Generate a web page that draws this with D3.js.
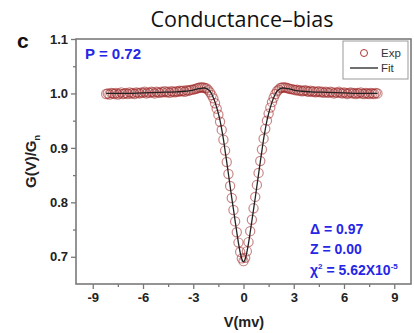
<!DOCTYPE html>
<html lang="en">
<head>
    <meta charset="UTF-8">
    <title>Conductance-bias</title>
    <script src="https://d3js.org/d3.v7.min.js"></script>
    <style>
        html, body { margin: 0; padding: 0; background: #fff; }
        svg { display: block; }
        .tick-label { font-family: "Liberation Sans", Arial, sans-serif; font-weight: bold; font-size: 13px; fill: #222; }
        .note { font-family: "Liberation Sans", Arial, sans-serif; font-weight: bold; fill: #2626e6; }
    </style>
</head>
<body>
<div id="chart"></div>
<script>
    // axis ticks
    var xTicks = [-9, -6, -3, 0, 3, 6, 9];
    var xMinor = [-7.5, -4.5, -1.5, 1.5, 4.5, 7.5];
    var yTicks = [0.7, 0.8, 0.9, 1.0, 1.1];
    var yMinor = [0.75, 0.85, 0.95, 1.05];

    // measured points (Exp)
    var expBias = [
        -8.2, -8.1, -8.0, -7.9, -7.8, -7.7, -7.6, -7.5, -7.4, -7.3, -7.2, -7.1, -7.0, -6.9, -6.8, -6.7,
        -6.6, -6.5, -6.4, -6.3, -6.2, -6.1, -6.0, -5.9, -5.8, -5.7, -5.6, -5.5, -5.4, -5.3, -5.2, -5.1,
        -5.0, -4.9, -4.8, -4.7, -4.6, -4.5, -4.4, -4.3, -4.2, -4.1, -4.0, -3.9, -3.8, -3.7, -3.6, -3.5,
        -3.4, -3.3, -3.2, -3.1,
        -3.0, -2.9, -2.8, -2.7, -2.6, -2.5, -2.4, -2.3, -2.2, -2.1, -2.0, -1.9, -1.8, -1.7, -1.6, -1.5,
        -1.4, -1.3, -1.2, -1.1, -1.0, -0.9, -0.8, -0.7, -0.6, -0.5, -0.4, -0.3, -0.2, -0.1, 0.0,
        0.1, 0.2, 0.3, 0.4, 0.5, 0.6, 0.7, 0.8, 0.9, 1.0, 1.1, 1.2, 1.3, 1.4, 1.5,
        1.6, 1.7, 1.8, 1.9, 2.0, 2.1, 2.2, 2.3, 2.4, 2.5, 2.6, 2.7, 2.8, 2.9, 3.0,
        3.1, 3.2, 3.3, 3.4, 3.5, 3.6, 3.7, 3.8, 3.9, 4.0, 4.1, 4.2, 4.3, 4.4, 4.5, 4.6,
        4.7, 4.8, 4.9, 5.0, 5.1, 5.2, 5.3, 5.4, 5.5, 5.6, 5.7, 5.8, 5.9, 6.0, 6.1, 6.2,
        6.3, 6.4, 6.5, 6.6, 6.7, 6.8, 6.9, 7.0, 7.1, 7.2, 7.3, 7.4, 7.5, 7.6, 7.7, 7.8,
        7.9, 8.0
    ];
    var expG = [
        0.999, 1.000, 0.998, 1.001, 1.000, 0.999, 1.001, 0.998, 1.000, 1.002, 0.999, 1.000, 1.001, 0.999, 1.002, 1.000,
        1.001, 0.999, 1.002, 1.001, 1.000, 1.002, 1.001, 1.003, 1.000, 1.002, 1.001, 1.003, 1.002, 1.000, 1.003, 1.002,
        1.001, 1.003, 1.002, 1.004, 1.002, 1.003, 1.001, 1.004, 1.003, 1.002, 1.004, 1.003, 1.005, 1.004, 1.005, 1.003,
        1.006, 1.005, 1.006, 1.007,
        1.007, 1.008, 1.009, 1.010, 1.011, 1.011, 1.011, 1.010, 1.009, 1.006, 1.002, 0.997, 0.991, 0.982, 0.972, 0.961,
        0.948, 0.933, 0.915, 0.895, 0.874, 0.852, 0.830, 0.808, 0.786, 0.765, 0.745, 0.726, 0.709, 0.697, 0.692,
        0.698, 0.710, 0.727, 0.747, 0.768, 0.789, 0.810, 0.832, 0.854, 0.876, 0.897, 0.917, 0.935, 0.950, 0.963,
        0.974, 0.984, 0.992, 0.999, 1.004, 1.007, 1.010, 1.011, 1.011, 1.011, 1.010, 1.009, 1.008, 1.008, 1.007,
        1.006, 1.007, 1.005, 1.006, 1.004, 1.005, 1.006, 1.004, 1.003, 1.005, 1.003, 1.004, 1.002, 1.003, 1.004, 1.002,
        1.003, 1.001, 1.003, 1.002, 1.001, 1.003, 1.002, 1.000, 1.002, 1.001, 1.003, 1.001, 1.000, 1.002, 1.001, 0.999,
        1.001, 1.002, 1.000, 1.001, 0.999, 1.001, 1.000, 1.002, 1.000, 0.999, 1.001, 1.000, 0.999, 1.001, 1.000, 0.999,
        1.001, 1.000
    ];

    // BTK fit curve (Fit)
    var fitBias = [
        -8.2, -7.0, -6.0, -5.0, -4.0, -3.5, -3.0, -2.8, -2.6, -2.4, -2.3, -2.2, -2.1, -2.0, -1.9, -1.8,
        -1.7, -1.6, -1.5, -1.4, -1.3, -1.2, -1.1, -1.0, -0.9, -0.8, -0.7, -0.6, -0.5, -0.4, -0.3, -0.2,
        -0.1, 0.0, 0.1, 0.2, 0.3, 0.4, 0.5, 0.6, 0.7, 0.8, 0.9, 1.0, 1.1, 1.2, 1.3, 1.4,
        1.5, 1.6, 1.7, 1.8, 1.9, 2.0, 2.1, 2.2, 2.3, 2.4, 2.6, 2.8, 3.0, 3.5, 4.0, 5.0,
        6.0, 7.0, 8.0
    ];
    var fitG = [
        1.000, 1.000, 1.001, 1.002, 1.003, 1.004, 1.006, 1.008, 1.009, 1.010, 1.010, 1.009, 1.007, 1.004, 0.999, 0.992,
        0.984, 0.974, 0.963, 0.950, 0.934, 0.916, 0.895, 0.874, 0.852, 0.830, 0.808, 0.787, 0.766, 0.745, 0.725, 0.708,
        0.696, 0.691, 0.696, 0.708, 0.725, 0.745, 0.766, 0.787, 0.808, 0.830, 0.852, 0.874, 0.895, 0.916, 0.934, 0.950,
        0.963, 0.974, 0.984, 0.992, 0.999, 1.004, 1.007, 1.009, 1.010, 1.010, 1.009, 1.008, 1.006, 1.004, 1.003, 1.002,
        1.001, 1.000, 1.000
    ];

    var W = 414, H = 333;
    var plotLeft = 76, plotRight = 411, plotTop = 39, plotBottom = 284;

    var svg = d3.select("#chart").append("svg")
        .attr("width", W)
        .attr("height", H);

    var x = d3.scaleLinear().domain([-10, 10]).range([plotLeft, plotRight]);
    var y = d3.scaleLinear().domain([0.65, 1.1]).range([plotBottom, plotTop]);

    // title
    svg.append("text")
        .attr("x", 242).attr("y", 27)
        .attr("text-anchor", "middle")
        .style("font-family", "'Open Sans', sans-serif")
        .style("font-size", "21.5px")
        .style("fill", "#111")
        .text("Conductance\u2013bias");

    // panel letter
    svg.append("text")
        .attr("x", 17).attr("y", 48)
        .style("font-family", "'Liberation Sans', Arial, sans-serif")
        .style("font-weight", "bold")
        .style("font-size", "21px")
        .style("fill", "#111")
        .text("c");

    // axes
    svg.append("g")
        .attr("transform", "translate(0," + plotBottom + ")")
        .call(d3.axisBottom(x).tickValues(xTicks).tickSize(5).tickPadding(4).tickFormat(function(d) { return String(d); }));
    svg.append("g")
        .attr("transform", "translate(0," + plotBottom + ")")
        .call(d3.axisBottom(x).tickValues(xMinor).tickSize(3).tickFormat(""));

    svg.append("g")
        .attr("transform", "translate(" + plotLeft + ",0)")
        .call(d3.axisLeft(y).tickValues(yTicks).tickSize(5).tickPadding(3).tickFormat(d3.format(".1f")));
    svg.append("g")
        .attr("transform", "translate(" + plotLeft + ",0)")
        .call(d3.axisLeft(y).tickValues(yMinor).tickSize(3).tickFormat(""));

    svg.selectAll(".domain").remove();
    svg.selectAll(".tick line").attr("stroke", "#777").attr("stroke-width", 1.3);
    svg.selectAll(".tick text").attr("class", "tick-label");

    // frame
    svg.append("rect")
        .attr("x", plotLeft).attr("y", plotTop)
        .attr("width", plotRight - plotLeft).attr("height", plotBottom - plotTop)
        .attr("fill", "none")
        .attr("stroke", "#7a7a7a")
        .attr("stroke-width", 1.6);

    // axis titles
    svg.append("text")
        .attr("x", 244).attr("y", 327)
        .attr("text-anchor", "middle")
        .style("font-family", "'Liberation Sans', Arial, sans-serif")
        .style("font-weight", "bold")
        .style("font-size", "14.5px")
        .style("fill", "#222")
        .text("V(mv)");

    var yTitle = svg.append("text")
        .attr("transform", "translate(36," + ((plotTop + plotBottom) / 2) + ") rotate(-90)")
        .attr("text-anchor", "middle")
        .style("font-family", "'Liberation Sans', Arial, sans-serif")
        .style("font-weight", "bold")
        .style("font-size", "15px")
        .style("fill", "#222");
    yTitle.append("tspan").text("G(V)/G");
    yTitle.append("tspan").attr("dy", 4).style("font-size", "9px").text("n");

    // data
    var expData = expBias.map(function(v, i) { return { v: v, g: expG[i] }; });
    var fitData = fitBias.map(function(v, i) { return { v: v, g: fitG[i] }; });

    svg.append("g").selectAll("circle")
        .data(expData)
        .enter()
        .append("circle")
        .attr("cx", function(d) { return x(d.v); })
        .attr("cy", function(d) { return y(d.g); })
        .attr("r", 4.6)
        .attr("fill", "none")
        .attr("stroke", "#9c2424")
        .attr("stroke-opacity", 0.55)
        .attr("stroke-width", 1.2);

    var line = d3.line()
        .x(function(d) { return x(d.v); })
        .y(function(d) { return y(d.g); })
        .curve(d3.curveMonotoneX);

    svg.append("path")
        .datum(fitData)
        .attr("d", line)
        .attr("fill", "none")
        .attr("stroke", "#222")
        .attr("stroke-width", 1.3);

    // legend
    var lg = svg.append("g");
    lg.append("rect")
        .attr("x", 343).attr("y", 41)
        .attr("width", 65).attr("height", 38)
        .attr("fill", "#fff")
        .attr("stroke", "#999")
        .attr("stroke-width", 1);
    lg.append("circle")
        .attr("cx", 364).attr("cy", 53).attr("r", 3.5)
        .attr("fill", "none").attr("stroke", "#b03434").attr("stroke-width", 1);
    lg.append("line")
        .attr("x1", 350).attr("x2", 378).attr("y1", 68).attr("y2", 68)
        .attr("stroke", "#222").attr("stroke-width", 1.3);
    lg.selectAll(".lgtext")
        .data(["Exp", "Fit"])
        .enter()
        .append("text")
        .attr("x", 381)
        .attr("y", function(d, i) { return 57 + i * 15; })
        .style("font-family", "'Liberation Sans', Arial, sans-serif")
        .style("font-size", "11.5px")
        .style("fill", "#333")
        .text(function(d) { return d; });

    // annotations
    svg.append("text")
        .attr("class", "note")
        .attr("x", 85).attr("y", 59)
        .style("font-size", "15px")
        .text("P = 0.72");

    var notes = svg.append("g").attr("class", "note").style("font-size", "14px");
    notes.append("text").attr("x", 310).attr("y", 234).text("\u0394 = 0.97");
    notes.append("text").attr("x", 310).attr("y", 254).text("Z = 0.00");
    var chi = notes.append("text").attr("x", 310).attr("y", 275);
    chi.append("tspan").text("\u03c7");
    chi.append("tspan").attr("dy", -6).style("font-size", "8px").text("2");
    chi.append("tspan").attr("dy", 6).text(" = 5.62X10");
    chi.append("tspan").attr("dy", -6).style("font-size", "8px").text("-5");
</script>
</body>
</html>
